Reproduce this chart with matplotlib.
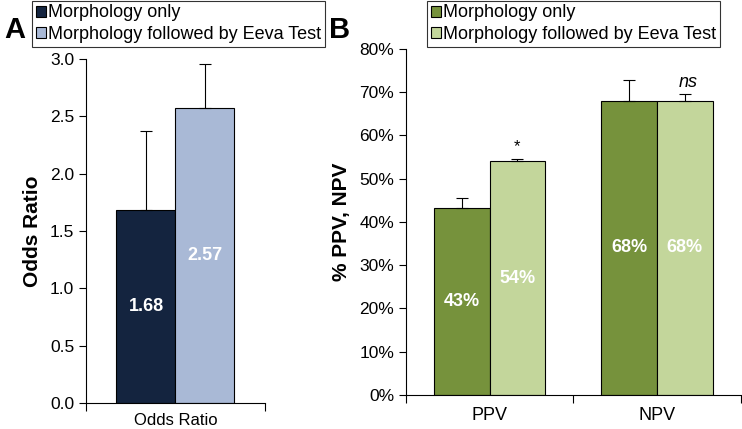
import matplotlib.pyplot as plt
import numpy as np

plt.rcParams['font.family'] = ['Liberation Sans', 'DejaVu Sans']

# Panel A data
series = ['Morphology only', 'Morphology followed by Eeva Test']
or_values = [1.68, 2.57]
or_err = [0.69, 0.39]
or_labels = ['1.68', '2.57']

# Panel B data
categories = ['PPV', 'NPV']
morph_only = [43.3, 68.0]
morph_eeva = [54.0, 68.0]
morph_only_err = [2.2, 4.8]
morph_eeva_err = [0.6, 1.5]
pct_labels_only = ['43%', '68%']
pct_labels_eeva = ['54%', '68%']
sig_marks = ['*', 'ns']

navy, lightblue = '#14243F', '#A9B9D6'
dkgreen, ltgreen = '#76923C', '#C3D69B'

fig = plt.figure(figsize=(7.42, 4.29), dpi=100)

leg_kw = dict(fontsize=13, frameon=True, fancybox=False, edgecolor='black',
              handlelength=0.55, handleheight=0.55, handletextpad=0.15, borderpad=0.2,
              labelspacing=0.25, borderaxespad=0)

# ---------- Panel A ----------
axA = fig.add_axes([0.116, 0.0606, 0.241, 0.802])
w = 0.33
xA = [-w / 2, w / 2]
cols = [navy, lightblue]
for i in range(2):
    axA.bar(xA[i], or_values[i], width=w, color=cols[i], edgecolor='black', linewidth=0.8,
            label=series[i], zorder=2)
    axA.errorbar(xA[i], or_values[i], yerr=[[0], [or_err[i]]], color='black', lw=0.8,
                 capsize=4, capthick=0.8, zorder=3)
    axA.text(xA[i], or_values[i] / 2, or_labels[i], color='white', fontweight='bold',
             fontsize=13, ha='center', va='center')
axA.set_xlim(-0.5, 0.5)
axA.set_ylim(0, 3.0)
axA.set_yticks(np.arange(0, 3.01, 0.5))
axA.set_yticklabels([f'{v:.1f}' for v in np.arange(0, 3.01, 0.5)], fontsize=12.5)
axA.set_xticks([-0.5, 0.5])
axA.set_xticklabels([])
axA.text(0, -0.03, 'Odds Ratio', transform=axA.get_xaxis_transform(), ha='center',
         va='top', fontsize=12)
axA.set_ylabel('Odds Ratio', fontsize=15, fontweight='bold', labelpad=6)
axA.spines[['top', 'right']].set_visible(False)
axA.tick_params(axis='both', direction='out', length=5, width=0.8)
axA.tick_params(axis='x', length=6)
legA = axA.legend(loc='upper left', bbox_to_anchor=(32 / 742, 0.998),
                  bbox_transform=fig.transFigure, **leg_kw)
legA.get_frame().set_linewidth(0.8)

# ---------- Panel B ----------
axB = fig.add_axes([0.547, 0.0793, 0.451, 0.8065])
x = np.arange(len(categories))
wb = 0.333
axB.bar(x - wb / 2, morph_only, width=wb, color=dkgreen, edgecolor='black', linewidth=0.8,
        label=series[0], zorder=2)
axB.bar(x + wb / 2, morph_eeva, width=wb, color=ltgreen, edgecolor='black', linewidth=0.8,
        label=series[1], zorder=2)
axB.errorbar(x - wb / 2, morph_only, yerr=[np.zeros(2), morph_only_err], fmt='none',
             ecolor='black', elinewidth=0.8, capsize=4, capthick=0.8, zorder=3)
axB.errorbar(x + wb / 2, morph_eeva, yerr=[np.zeros(2), morph_eeva_err], fmt='none',
             ecolor='black', elinewidth=0.8, capsize=4, capthick=0.8, zorder=3)
for i in range(2):
    axB.text(x[i] - wb / 2, morph_only[i] / 2, pct_labels_only[i],
             color='white', fontweight='bold', fontsize=13, ha='center', va='center')
    axB.text(x[i] + wb / 2, morph_eeva[i] / 2, pct_labels_eeva[i],
             color='white', fontweight='bold', fontsize=13, ha='center', va='center')
axB.text(x[0] + wb / 2, 57.5, sig_marks[0], ha='center', va='center', fontsize=12)
axB.text(x[1] + wb / 2 + 0.02, 72.3, sig_marks[1], ha='center', va='center', fontsize=13,
         style='italic')
axB.set_xlim(-0.5, 1.5)
axB.set_ylim(0, 80)
axB.set_yticks(np.arange(0, 81, 10))
axB.set_yticklabels([f'{v}%' for v in range(0, 81, 10)], fontsize=12.5)
axB.set_xticks([-0.5, 0.5, 1.5])
axB.set_xticklabels([])
for i, c in enumerate(categories):
    axB.text(x[i], -0.035, c, transform=axB.get_xaxis_transform(), ha='center',
             va='top', fontsize=13)
axB.set_ylabel('% PPV, NPV', fontsize=15, fontweight='bold', labelpad=6)
axB.spines[['top', 'right']].set_visible(False)
axB.tick_params(axis='both', direction='out', length=5, width=0.8)
axB.tick_params(axis='x', length=6)
legB = axB.legend(loc='upper left', bbox_to_anchor=(427 / 742, 0.998),
                  bbox_transform=fig.transFigure, **leg_kw)
legB.get_frame().set_linewidth(0.8)

fig.text(0.006, 0.93, 'A', fontsize=21, fontweight='bold', va='center')
fig.text(0.443, 0.93, 'B', fontsize=21, fontweight='bold', va='center')

fig.savefig('out.png', dpi=100)
